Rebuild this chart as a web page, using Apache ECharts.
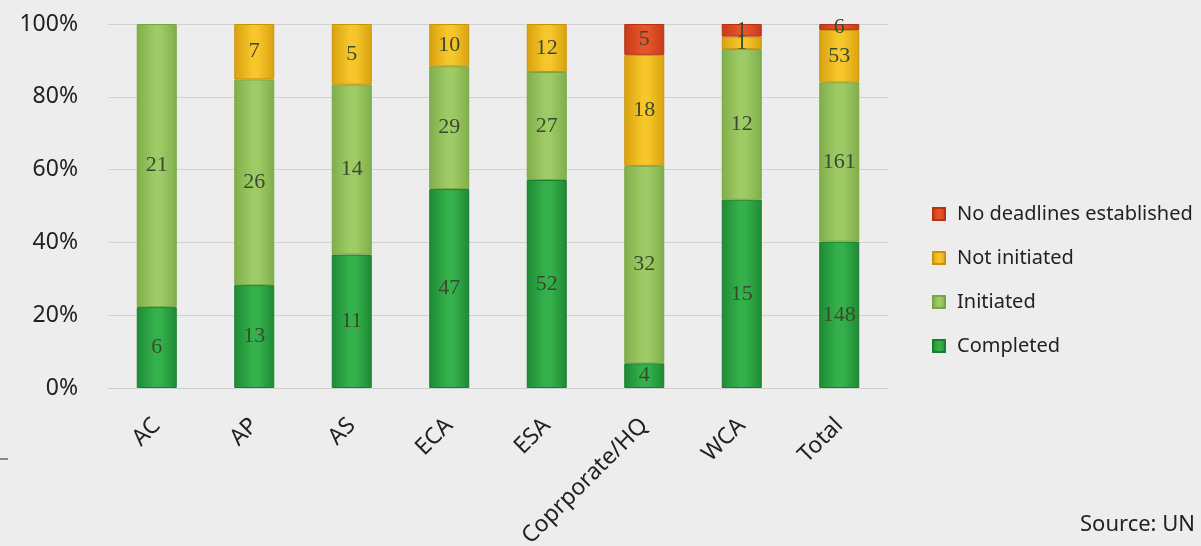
<!DOCTYPE html>
<html>
<head>
<meta charset="utf-8">
<script src="https://cdn.jsdelivr.net/npm/echarts@6/dist/echarts.min.js"></script>
<style>
html,body{margin:0;padding:0;background:#ededed;}
#chart{width:1201px;height:546px;}
</style>
</head>
<body>
<div id="chart"></div>
<script>
const categories = ['AC', 'AP', 'AS', 'ECA', 'ESA', 'Coprporate/HQ', 'WCA', 'Total'];
const completed = [6, 13, 11, 47, 52, 4, 15, 148];
const initiated = [21, 26, 14, 29, 27, 32, 12, 161];
const notInitiated = [0, 7, 5, 10, 12, 18, 1, 53];
const noDeadlines = [0, 0, 0, 0, 0, 5, 1, 6];
const seriesNames = ['Completed', 'Initiated', 'Not initiated', 'No deadlines established'];
const seriesCounts = [completed, initiated, notInitiated, noDeadlines];

const totals = categories.map((c, i) => seriesCounts.reduce((s, arr) => s + arr[i], 0));

const palette = [
  { edge: '#1d8a34', mid: '#35b14c', border: '#1b7d2f' },
  { edge: '#7fae4a', mid: '#9fcb66', border: '#78a645' },
  { edge: '#d9a10f', mid: '#f6c62a', border: '#c9940c' },
  { edge: '#c73a18', mid: '#e5552b', border: '#b53314' }
];

function grad(p) {
  return {
    type: 'linear', x: 0, y: 0, x2: 1, y2: 0,
    colorStops: [
      { offset: 0, color: p.edge },
      { offset: 0.45, color: p.mid },
      { offset: 0.6, color: p.mid },
      { offset: 1, color: p.edge }
    ]
  };
}

const series = seriesNames.map((name, si) => ({
  name: name,
  type: 'bar',
  stack: 'all',
  barWidth: 40,
  data: seriesCounts[si].map((v, i) => (v ? { value: v / totals[i] * 100, count: v } : { value: '-', count: 0 })),
  itemStyle: { color: grad(palette[si]), borderColor: palette[si].border, borderWidth: 1 },
  label: {
    show: true,
    position: 'inside',
    fontFamily: 'Liberation Serif',
    fontSize: 22,
    color: '#3b4a2e',
    formatter: p => (p.data.count ? String(p.data.count) : '')
  },
  emphasis: { disabled: true }
}));

const chart = echarts.init(document.getElementById('chart'));
chart.setOption({
  backgroundColor: '#ededed',
  animation: false,
  color: palette.map(p => p.mid),
  grid: { left: 108, top: 24, width: 780, height: 364, containLabel: false, outerBoundsMode: 'none' },
  xAxis: {
    type: 'category',
    data: categories,
    axisLine: { show: true, lineStyle: { color: '#cfcfcf', width: 1 } },
    axisTick: { show: false },
    axisLabel: {
      rotate: 45,
      margin: 34,
      fontFamily: 'Noto Sans',
      fontSize: 23,
      color: '#222'
    }
  },
  yAxis: {
    type: 'value',
    min: 0,
    max: 100,
    interval: 20,
    axisLine: { show: false },
    axisTick: { show: false },
    splitLine: { lineStyle: { color: '#d2d2d2', width: 1 } },
    axisLabel: {
      formatter: '{value}%',
      margin: 30,
      fontFamily: 'Noto Sans',
      fontSize: 23,
      color: '#222'
    }
  },
  legend: {
    orient: 'vertical',
    left: 932,
    top: 204,
    padding: 0,
    itemWidth: 12,
    itemHeight: 12,
    itemGap: 24,
    icon: 'rect',
    data: ['No deadlines established', 'Not initiated', 'Initiated', 'Completed'],
    textStyle: { fontFamily: 'Noto Sans', fontSize: 20, color: '#222', lineHeight: 20, padding: [0, 0, 0, 7] }
  },
  graphic: [
    { type: 'text', left: 1080, top: 514, style: { text: 'Source: UN', font: '22px "Noto Sans"', fill: '#222' } },
    { type: 'line', shape: { x1: 0, y1: 459, x2: 8, y2: 459 }, style: { stroke: '#222', lineWidth: 1 } }
  ],
  series: series
});
</script>
</body>
</html>
